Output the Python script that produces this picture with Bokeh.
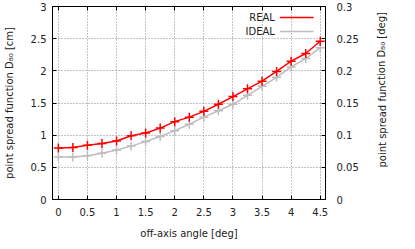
from bokeh.plotting import figure
from bokeh.models import (Range1d, LinearAxis, FixedTicker, Label, Arrow)
from bokeh.layouts import row
from bokeh.embed import file_html
from bokeh.resources import INLINE

# ---- data ----
angle = [0, 0.25, 0.5, 0.75, 1.0, 1.25, 1.5, 1.75, 2.0, 2.25, 2.5, 2.75, 3.0, 3.25, 3.5, 3.75, 4.0, 4.25, 4.5]
real = [0.80, 0.81, 0.845, 0.87, 0.91, 0.99, 1.035, 1.11, 1.21, 1.28, 1.37, 1.48, 1.60, 1.72, 1.84, 1.99, 2.15, 2.27, 2.46]
ideal = [0.66, 0.66, 0.68, 0.72, 0.77, 0.83, 0.90, 0.98, 1.07, 1.17, 1.28, 1.38, 1.48, 1.62, 1.76, 1.90, 2.06, 2.19, 2.36]
series_names = ["REAL", "IDEAL"]
x_ticks = [0, 0.5, 1, 1.5, 2, 2.5, 3, 3.5, 4, 4.5]
x_tick_labels = ["0", "0.5", "1", "1.5", "2", "2.5", "3", "3.5", "4", "4.5"]
y_ticks = [0, 0.5, 1, 1.5, 2, 2.5, 3]
y_tick_labels = ["0", "0.5", "1", "1.5", "2", "2.5", "3"]
y2_ticks = [0, 0.05, 0.1, 0.15, 0.2, 0.25, 0.3]
y2_tick_labels = ["0", "0.05", "0.1", "0.15", "0.2", "0.25", "0.3"]
right_title = "point spread function D₈₀ [deg]"

FONT = "DejaVu Sans"
FS = "10px"
RED = "#ff0000"
GRAY = "#bdbdbd"
TXT = "#222222"

W_MAIN, W_SIDE, H = 370, 29, 241
XMIN, XMAX = -0.1, 4.59
p = figure(width=W_MAIN, height=H, output_backend="svg", toolbar_location=None,
           x_range=Range1d(XMIN, XMAX), y_range=Range1d(0, 3),
           min_border_left=50, min_border_right=W_MAIN - 325, min_border_top=6, min_border_bottom=42)
p.extra_y_ranges = {"deg": Range1d(0, 0.3)}
p.outline_line_color = "black"
p.outline_line_width = 1

def style_axis(ax, ticks, labels):
    ax.ticker = FixedTicker(ticks=ticks)
    ax.major_label_overrides = {t: l for t, l in zip(ticks, labels)}
    ax.major_tick_in = 4
    ax.major_tick_out = 0
    ax.minor_tick_line_color = None
    ax.axis_line_color = "black"
    ax.major_tick_line_color = "black"
    ax.major_label_text_font = FONT
    ax.major_label_text_font_size = FS
    ax.major_label_text_color = TXT
    ax.axis_label_text_font = FONT
    ax.axis_label_text_font_size = FS
    ax.axis_label_text_font_style = "normal"
    ax.axis_label_text_color = TXT

xa = p.xaxis[0]
style_axis(xa, x_ticks, x_tick_labels)
xa.axis_label = "off-axis angle [deg]"
xa.major_label_standoff = 8
xa.axis_label_standoff = 9

ya = p.yaxis[0]
style_axis(ya, y_ticks, y_tick_labels)
ya.axis_label = "point spread function D₈₀ [cm]"
ya.major_label_standoff = 6
ya.axis_label_standoff = 13

ra = LinearAxis(y_range_name="deg")
style_axis(ra, y2_ticks, y2_tick_labels)
ra.major_label_standoff = 11
p.add_layout(ra, "right")

ta = LinearAxis()
style_axis(ta, x_ticks, [""] * len(x_ticks))
ta.major_label_text_color = None
ta.major_label_standoff = 0
p.add_layout(ta, "above")

p.xgrid.ticker = FixedTicker(ticks=x_ticks)
p.ygrid.ticker = FixedTicker(ticks=y_ticks)
for g in (p.xgrid[0], p.ygrid[0]):
    g.grid_line_color = "#888888"
    g.grid_line_dash = "1 2"
    g.grid_line_width = 1

# ideal
p.line(angle, ideal, line_color=GRAY, line_width=1.5)
p.scatter(angle, ideal, marker="cross", size=9, line_color=GRAY, line_width=1.5)
# real
p.line(angle, real, line_color=RED, line_width=1.5)
p.scatter(angle, real, marker="cross", size=9, line_color=RED, line_width=1.5)

# legend (gnuplot style: text right-aligned, sample line to the right)
legend_colors = [RED, GRAY]
legend_y = [2.829, 2.611]
for name, col, yv in zip(series_names, legend_colors, legend_y):
    p.add_layout(Label(x=3.72, y=yv, text=name, text_align="right", text_baseline="middle",
                       text_font=FONT, text_font_size=FS, text_color=TXT))
    p.add_layout(Arrow(end=None, x_start=3.805, y_start=yv, x_end=4.385, y_end=yv,
                       line_color=col, line_width=1.5))

# side strip holding the right-hand axis title (reads bottom-to-top)
s = figure(width=W_SIDE, height=H, output_backend="svg", toolbar_location=None,
           x_range=Range1d(0, W_SIDE), y_range=Range1d(0, H),
           min_border=0, min_border_left=0, min_border_right=0, min_border_top=0, min_border_bottom=0)
s.axis.visible = False
s.grid.visible = False
s.outline_line_color = None
s.add_layout(Label(x=11.5, y=H - 104, text=right_title, angle=1.5708,
                   text_align="center", text_baseline="middle",
                   text_font=FONT, text_font_size=FS, text_color=TXT))

layout = row(p, s, spacing=0)
open("out.html", "w").write(file_html(layout, INLINE))
